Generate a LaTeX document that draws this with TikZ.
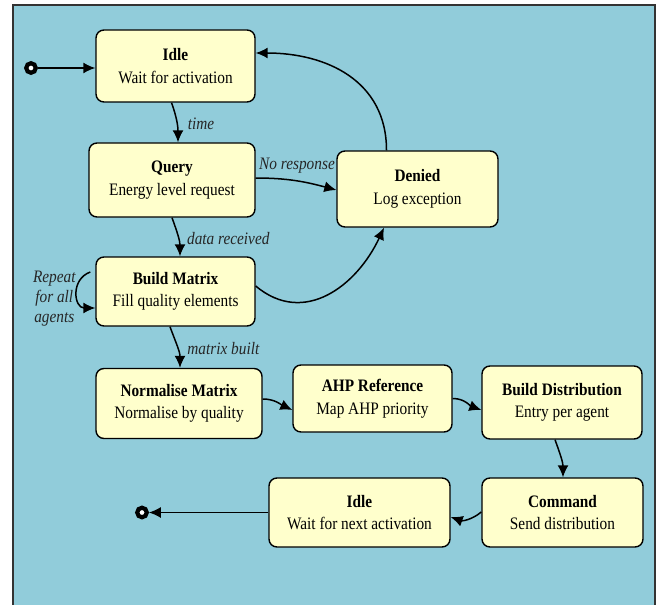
\documentclass[tikz,border=0pt]{standalone}
\usepackage{fontspec}
\setmainfont{Liberation Serif}[FakeStretch=0.875]
\usetikzlibrary{arrows.meta}
\definecolor{bgblue}{RGB}{145,204,218}
\definecolor{boxyellow}{RGB}{255,255,204}
\begin{document}
\begin{tikzpicture}[x=1pt,y=-1pt,
  state/.style={draw=black, line width=1.4pt, fill=boxyellow, rounded corners=8pt,
    align=center, font=\fontsize{17.5}{22.5}\selectfont, inner sep=0pt},
  trans/.style={line width=1.5pt, -{Latex[length=12pt,width=11pt]}},
  lbl/.style={font=\fontsize{17.5}{20}\selectfont\itshape, inner sep=1pt, text=black!85},
  pseudo/.style={circle, draw=black, line width=4.2pt, fill=white, minimum size=9.5pt, inner sep=0pt}]

\useasboundingbox (0,0) rectangle (660,604);
\fill[white] (0,0) rectangle (660,604);
\draw[fill=bgblue, draw=black!80, line width=1.8pt] (13,5) rectangle (655,625);

% states
\node[state, minimum width=159pt, minimum height=72pt] (idle1) at (175.5,66) {\textbf{Idle}\\Wait for activation};
\node[state, minimum width=166pt, minimum height=74pt] (query) at (172,180) {\textbf{Query}\\Energy level request};
\node[lbl, anchor=base east] (nores) at (336,169) {No response};
\node[state, minimum width=161pt, minimum height=76pt] (denied) at (417.5,189) {\textbf{Denied}\\Log exception};
\node[state, minimum width=159pt, minimum height=69pt] (bm) at (175.5,291.5) {\textbf{Build Matrix}\\Fill quality elements};
\node[state, minimum width=166pt, minimum height=70pt] (norm) at (179,403.5) {\textbf{Normalise Matrix}\\Normalise by quality};
\node[state, minimum width=159pt, minimum height=67pt] (ahp) at (372.5,398.5) {\textbf{AHP Reference}\\Map AHP priority};
\node[state, minimum width=160pt, minimum height=73pt] (bd) at (562,402.5) {\textbf{Build Distribution}\\Entry per agent};
\node[state, minimum width=161pt, minimum height=69pt] (cmd) at (562.5,512.5) {\textbf{Command}\\Send distribution};
\node[state, minimum width=181pt, minimum height=69pt] (idle2) at (359.5,512.5) {\textbf{Idle}\\Wait for next activation};

% pseudo states
\node[pseudo] (init) at (31,68) {};
\node[pseudo] (final) at (142,512.5) {};

% transitions
\draw[trans] (init) -- (idle1.west |- init);
\draw[trans] ([xshift=-4pt]idle1.south) to[out=-70,in=90]
  node[lbl, anchor=west, pos=0.55, xshift=9pt] {time} ([xshift=6pt]query.north);
\draw[trans] ([yshift=2pt]query.east) to[out=0,in=165] ([yshift=-1pt]denied.west);
\draw[trans] ([xshift=-31pt]denied.north) to[out=90,in=0,looseness=1.1] ([yshift=13pt]idle1.east);
\draw[trans] (query.south) to[out=-70,in=90]
  node[lbl, anchor=west, pos=0.55, xshift=7pt] {data received} ([xshift=4.5pt]bm.north);
\draw[trans] ([yshift=5.5pt]bm.east) to[out=-40,in=-115,looseness=1.15] ([xshift=-33.5pt]denied.south);
\draw[trans] ([xshift=-5pt,yshift=19.5pt]bm.west) to[out=200,in=180,looseness=1.5]
  node[lbl, pos=0.5, anchor=east, yshift=-6pt, align=center, font=\fontsize{17.5}{20}\selectfont\itshape] {Repeat\\for all\\agents}
  ([yshift=-16.5pt]bm.west);
\draw[trans] ([xshift=-5.5pt]bm.south) to[out=-70,in=90]
  node[lbl, anchor=west, pos=0.55, xshift=8pt] {matrix built} ([xshift=1pt]norm.north);
\draw[trans] ([yshift=4.5pt]norm.east) to[out=0,in=155] ([yshift=-11.5pt]ahp.west);
\draw[trans] (ahp.east) to[out=0,in=160] ([yshift=-7.5pt]bd.west);
\draw[trans] ([xshift=-7pt]bd.south) to[out=-70,in=90] ([xshift=0.5pt]cmd.north);
\draw[trans] ([yshift=0.5pt]cmd.west) to[out=220,in=-20] ([yshift=-4.5pt]idle2.east);
\draw[trans] (idle2.west) -- (final);
\end{tikzpicture}
\end{document}
